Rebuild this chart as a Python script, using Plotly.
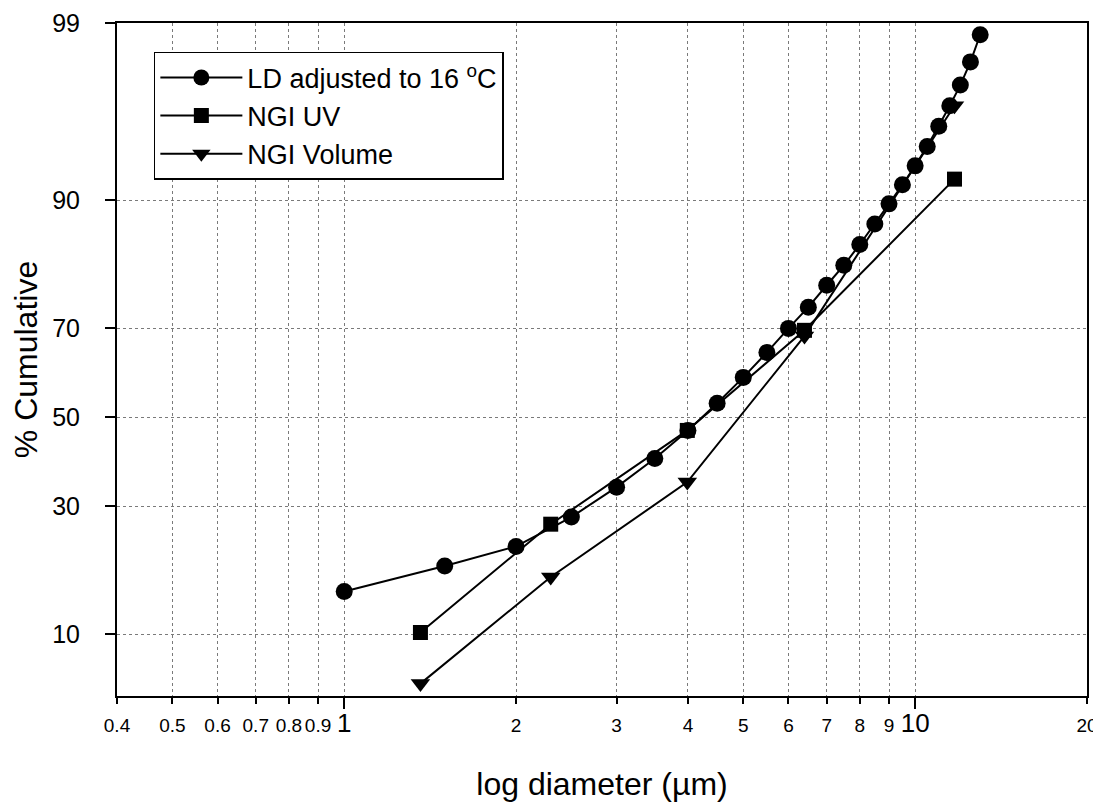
import math
from statistics import NormalDist
import plotly.graph_objects as go

# ---- data ----
ld_diam = [1.0, 1.5, 2.0, 2.5, 3.0, 3.5, 4.0, 4.5, 5.0, 5.5, 6.0, 6.5, 7.0,
           7.5, 8.0, 8.5, 9.0, 9.5, 10.0, 10.5, 11.0, 11.5, 12.0, 12.5, 13.0]
ld_cum = [15.2, 19.0, 22.3, 27.8, 34.0, 40.4, 46.9, 53.3, 59.3, 64.9, 70.0, 74.2, 78.2,
          81.5, 84.6, 87.3, 89.6, 91.5, 93.1, 94.5, 95.7, 96.7, 97.5, 98.2, 98.8]

ngi_diam = [1.36, 2.30, 3.99, 6.40, 11.72]
ngi_uv_cum = [10.2, 26.4, 46.9, 69.6, 92.0]
ngi_vol_cum = [5.8, 17.3, 35.1, 68.4, 96.7]

x_tickvals = [0.4, 0.5, 0.6, 0.7, 0.8, 0.9, 1, 2, 3, 4, 5, 6, 7, 8, 9, 10, 20]
x_ticktext = ["0.4", "0.5", "0.6", "0.7", "0.8", "0.9", "1", "2", "3", "4", "5",
              "6", "7", "8", "9", "10", "20"]
x_big_ticks = [1, 10]
y_tickvals_pct = [10, 30, 50, 70, 90, 99]
y_range_pct = [5, 99]

nd = NormalDist()


def probit(vals):
    return [nd.inv_cdf(v / 100.0) for v in vals]


FONT = "Liberation Sans, Arial, sans-serif"

fig = go.Figure()
fig.add_trace(go.Scatter(
    x=ld_diam, y=probit(ld_cum), mode="lines+markers", name="LD adjusted to 16 <sup>o</sup>C",
    line=dict(color="black", width=2),
    marker=dict(symbol="circle", size=17, color="black"),
))
fig.add_trace(go.Scatter(
    x=ngi_diam, y=probit(ngi_uv_cum), mode="lines+markers", name="NGI UV",
    line=dict(color="black", width=2),
    marker=dict(symbol="square", size=15, color="black"),
))
fig.add_trace(go.Scatter(
    x=ngi_diam, y=probit(ngi_vol_cum), mode="lines+markers", name="NGI Volume",
    line=dict(color="black", width=2),
    marker=dict(symbol="triangle-down", size=17, color="black"),
))

ticktext = [
    (f'<span style="font-size:26px">{t}</span>' if v in x_big_ticks else t)
    for v, t in zip(x_tickvals, x_ticktext)
]

# the page body has an 8px default margin, so the figure is offset by 8px;
# shrink the figure so the page does not overflow the 1101x805 window
fig.update_layout(
    width=1093, height=797,
    margin=dict(l=109, r=14, t=15, b=109, autoexpand=False),
    paper_bgcolor="white", plot_bgcolor="white",
    font=dict(family=FONT, color="black"),
    showlegend=True,
    legend=dict(
        x=0.038, y=0.957, xanchor="left", yanchor="top",
        bgcolor="white", bordercolor="black", borderwidth=1.5,
        font=dict(size=27, family=FONT, color="black"),
        itemwidth=82, tracegroupgap=0,
    ),
    xaxis=dict(
        type="log", automargin=False,
        range=[math.log10(x_tickvals[0]), math.log10(x_tickvals[-1])],
        tickmode="array", tickvals=x_tickvals, ticktext=ticktext,
        tickangle=0, ticklabeloverflow="allow",
        tickfont=dict(size=19, family=FONT, color="black"),
        ticks="outside", ticklen=6, tickwidth=1.5, tickcolor="black",
        ticklabelstandoff=5,
        showgrid=True, gridcolor="#7a7a7a", gridwidth=1, griddash="dot",
        showline=True, linecolor="black", linewidth=2, mirror=True,
        zeroline=False,
        minor=dict(tickmode="array", tickvals=x_big_ticks, ticks="outside",
                   ticklen=11, tickwidth=1.5, tickcolor="black", showgrid=False),
        title=dict(text="log diameter (µm)", font=dict(size=32, family=FONT, color="black"),
                   standoff=36),
    ),
    yaxis=dict(
        automargin=False,
        range=probit(y_range_pct),
        tickmode="array", tickvals=probit(y_tickvals_pct),
        ticktext=[str(v) for v in y_tickvals_pct],
        tickfont=dict(size=25, family=FONT, color="black"),
        ticks="outside", ticklen=10, tickwidth=1.5, tickcolor="black",
        ticklabelstandoff=20,
        showgrid=True, gridcolor="#7a7a7a", gridwidth=1, griddash="dot",
        showline=True, linecolor="black", linewidth=2, mirror=True,
        zeroline=False,
        title=dict(text="% Cumulative", font=dict(size=32, family=FONT, color="black"),
                   standoff=10),
    ),
)

fig.write_html("out.html")
